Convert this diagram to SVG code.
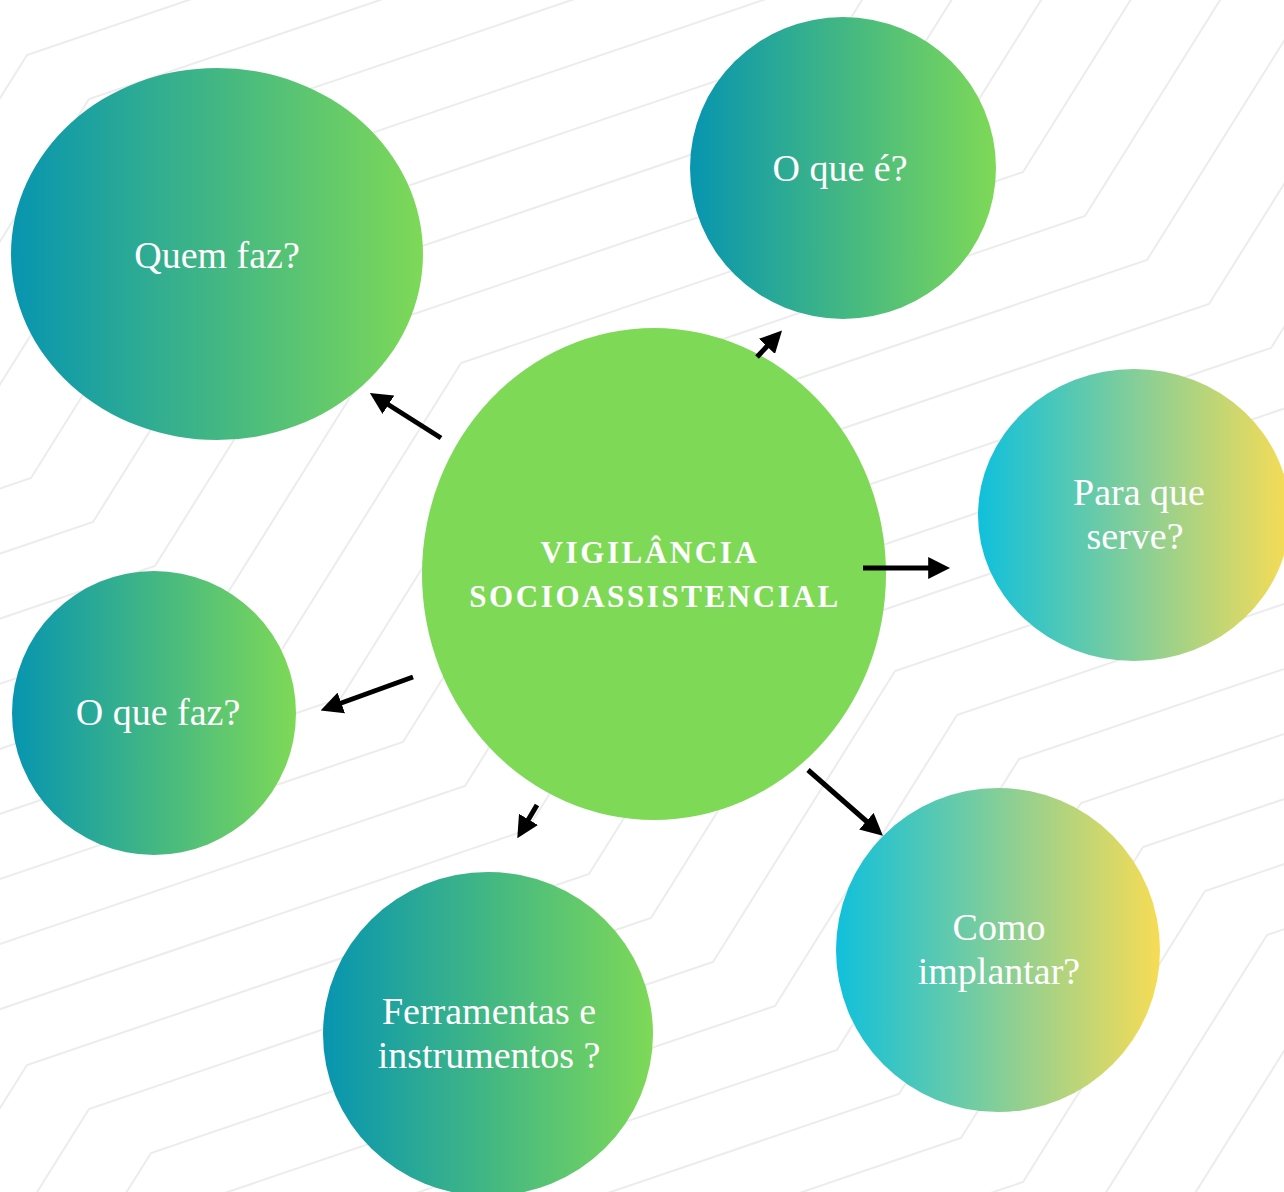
<svg xmlns="http://www.w3.org/2000/svg" xmlns:xlink="http://www.w3.org/1999/xlink" width="1284" height="1192" viewBox="0 0 1284 1192">
  <style>
    .bg { fill: none; stroke: #ececec; stroke-width: 2; }
    .label { font-family: "Liberation Serif", "Times New Roman", serif; font-size: 38px; fill: #ffffff; text-anchor: middle; }
    .title { font-family: "Liberation Serif", "Times New Roman", serif; font-size: 31px; font-weight: bold; letter-spacing: 2.6px; fill: #ffffff; text-anchor: middle; }
    .conn { stroke: #000000; stroke-width: 5; fill: none; marker-end: url(#arrow); }
  </style>
  <defs>
    <linearGradient id="gGreen" x1="0" y1="0" x2="1" y2="0">
      <stop offset="0" stop-color="#0795b0"/>
      <stop offset="1" stop-color="#7ed957"/>
    </linearGradient>
    <linearGradient id="gYellow" x1="0" y1="0" x2="1" y2="0">
      <stop offset="0" stop-color="#10c0dc"/>
      <stop offset="1" stop-color="#f7dc55"/>
    </linearGradient>
    <marker id="arrow" viewBox="0 0 10 10" refX="4" refY="5" markerWidth="4.4" markerHeight="4.4" orient="auto" markerUnits="strokeWidth">
      <path d="M0,0 L10,5 L0,10 z" fill="#000000"/>
    </marker>
    <polyline id="bgline" class="bg" points="-1027,1327 -465,1136 -283,845 279,654 461,363 1023,172 1205,-119 1767,-310 1949,-601"/>
  </defs>

  <rect x="0" y="0" width="1284" height="1192" fill="#ffffff"/>

  <g id="background">
    <use xlink:href="#bgline" transform="translate(-558,-396)"/>
    <use xlink:href="#bgline" transform="translate(-496,-352)"/>
    <use xlink:href="#bgline" transform="translate(-434,-308)"/>
    <use xlink:href="#bgline" transform="translate(-372,-264)"/>
    <use xlink:href="#bgline" transform="translate(-310,-220)"/>
    <use xlink:href="#bgline" transform="translate(-248,-176)"/>
    <use xlink:href="#bgline" transform="translate(-186,-132)"/>
    <use xlink:href="#bgline" transform="translate(-124,-88)"/>
    <use xlink:href="#bgline" transform="translate(-62,-44)"/>
    <use xlink:href="#bgline"/>
    <use xlink:href="#bgline" transform="translate(62,44)"/>
    <use xlink:href="#bgline" transform="translate(124,88)"/>
    <use xlink:href="#bgline" transform="translate(186,132)"/>
    <use xlink:href="#bgline" transform="translate(248,176)"/>
    <use xlink:href="#bgline" transform="translate(310,220)"/>
    <use xlink:href="#bgline" transform="translate(372,264)"/>
    <use xlink:href="#bgline" transform="translate(434,308)"/>
    <use xlink:href="#bgline" transform="translate(496,352)"/>
    <use xlink:href="#bgline" transform="translate(558,396)"/>
    <use xlink:href="#bgline" transform="translate(620,440)"/>
    <use xlink:href="#bgline" transform="translate(682,484)"/>
    <use xlink:href="#bgline" transform="translate(744,528)"/>
    <use xlink:href="#bgline" transform="translate(806,572)"/>
    <use xlink:href="#bgline" transform="translate(868,616)"/>
    <use xlink:href="#bgline" transform="translate(930,660)"/>
    <use xlink:href="#bgline" transform="translate(992,704)"/>
  </g>

  <g id="node-quem-faz">
    <ellipse cx="217" cy="254" rx="206" ry="186" fill="url(#gGreen)"/>
    <text class="label" x="217" y="268">Quem faz?</text>
  </g>

  <g id="node-o-que-e">
    <ellipse cx="843" cy="168" rx="153" ry="151" fill="url(#gGreen)"/>
    <text class="label" x="840" y="181">O que é?</text>
  </g>

  <g id="node-para-que-serve">
    <ellipse cx="1134" cy="515" rx="156" ry="146" fill="url(#gYellow)"/>
    <text class="label" x="1139" y="505">Para que</text>
    <text class="label" x="1135" y="549">serve?</text>
  </g>

  <g id="node-o-que-faz">
    <ellipse cx="154" cy="713" rx="142" ry="142" fill="url(#gGreen)"/>
    <text class="label" x="158" y="725">O que faz?</text>
  </g>

  <g id="node-ferramentas">
    <ellipse cx="488" cy="1034" rx="165" ry="162" fill="url(#gGreen)"/>
    <text class="label" x="489" y="1024">Ferramentas e</text>
    <text class="label" x="489" y="1068">instrumentos ?</text>
  </g>

  <g id="node-como-implantar">
    <ellipse cx="998" cy="950" rx="162" ry="162" fill="url(#gYellow)"/>
    <text class="label" x="999" y="940">Como</text>
    <text class="label" x="999" y="984">implantar?</text>
  </g>

  <g id="node-center">
    <ellipse cx="654" cy="574" rx="232" ry="246" fill="#7ed957"/>
    <text class="title" x="650" y="563">VIGILÂNCIA</text>
    <text class="title" x="655" y="607">SOCIOASSISTENCIAL</text>
  </g>

  <g id="connectors">
    <line class="conn" x1="441" y1="438" x2="381" y2="400"/>
    <line class="conn" x1="757" y1="357" x2="773" y2="340"/>
    <line class="conn" x1="863" y1="568" x2="937" y2="568"/>
    <line class="conn" x1="413" y1="677" x2="333" y2="706"/>
    <line class="conn" x1="537" y1="805" x2="524" y2="827"/>
    <line class="conn" x1="808" y1="770" x2="873" y2="827"/>
  </g>
</svg>
